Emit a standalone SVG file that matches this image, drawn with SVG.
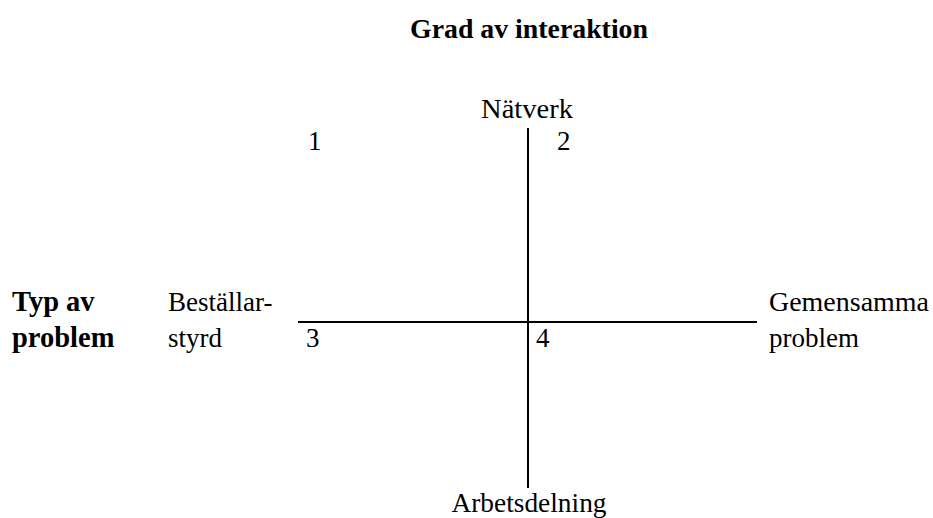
<svg xmlns="http://www.w3.org/2000/svg" width="933" height="518" viewBox="0 0 933 518">
<style>
text{font-family:"Liberation Serif","Times New Roman",serif;font-size:27px;fill:#000}
.b{font-weight:bold}
.bl{font-weight:bold;font-size:28.5px}
.m{text-anchor:middle}
.ax{stroke:#000;stroke-width:2;fill:none}
</style>
<rect width="933" height="518" fill="#fff"/>
<g id="connectors">
<line class="ax" x1="528" y1="128" x2="528" y2="488"/>
<line class="ax" x1="298" y1="322" x2="757" y2="322"/>
</g>
<g id="title"><text class="b m" x="529" y="38" textLength="238" lengthAdjust="spacingAndGlyphs">Grad av interaktion</text></g>
<g id="top"><text class="m" x="527" y="118" textLength="92" lengthAdjust="spacingAndGlyphs">Nätverk</text></g>
<g id="q1"><text x="308" y="150">1</text></g>
<g id="q2"><text x="557" y="150">2</text></g>
<g id="q3"><text x="306" y="347">3</text></g>
<g id="q4"><text x="536" y="347">4</text></g>
<g id="yaxis"><text class="bl" x="12" y="311">Typ av</text><text class="bl" x="12" y="347">problem</text></g>
<g id="left"><text x="168" y="311">Beställar-</text><text x="168" y="347">styrd</text></g>
<g id="right"><text x="769" y="311" textLength="160" lengthAdjust="spacingAndGlyphs">Gemensamma</text><text x="769" y="347">problem</text></g>
<g id="bottom"><text class="m" x="529" y="512" textLength="155" lengthAdjust="spacingAndGlyphs">Arbetsdelning</text></g>
</svg>
